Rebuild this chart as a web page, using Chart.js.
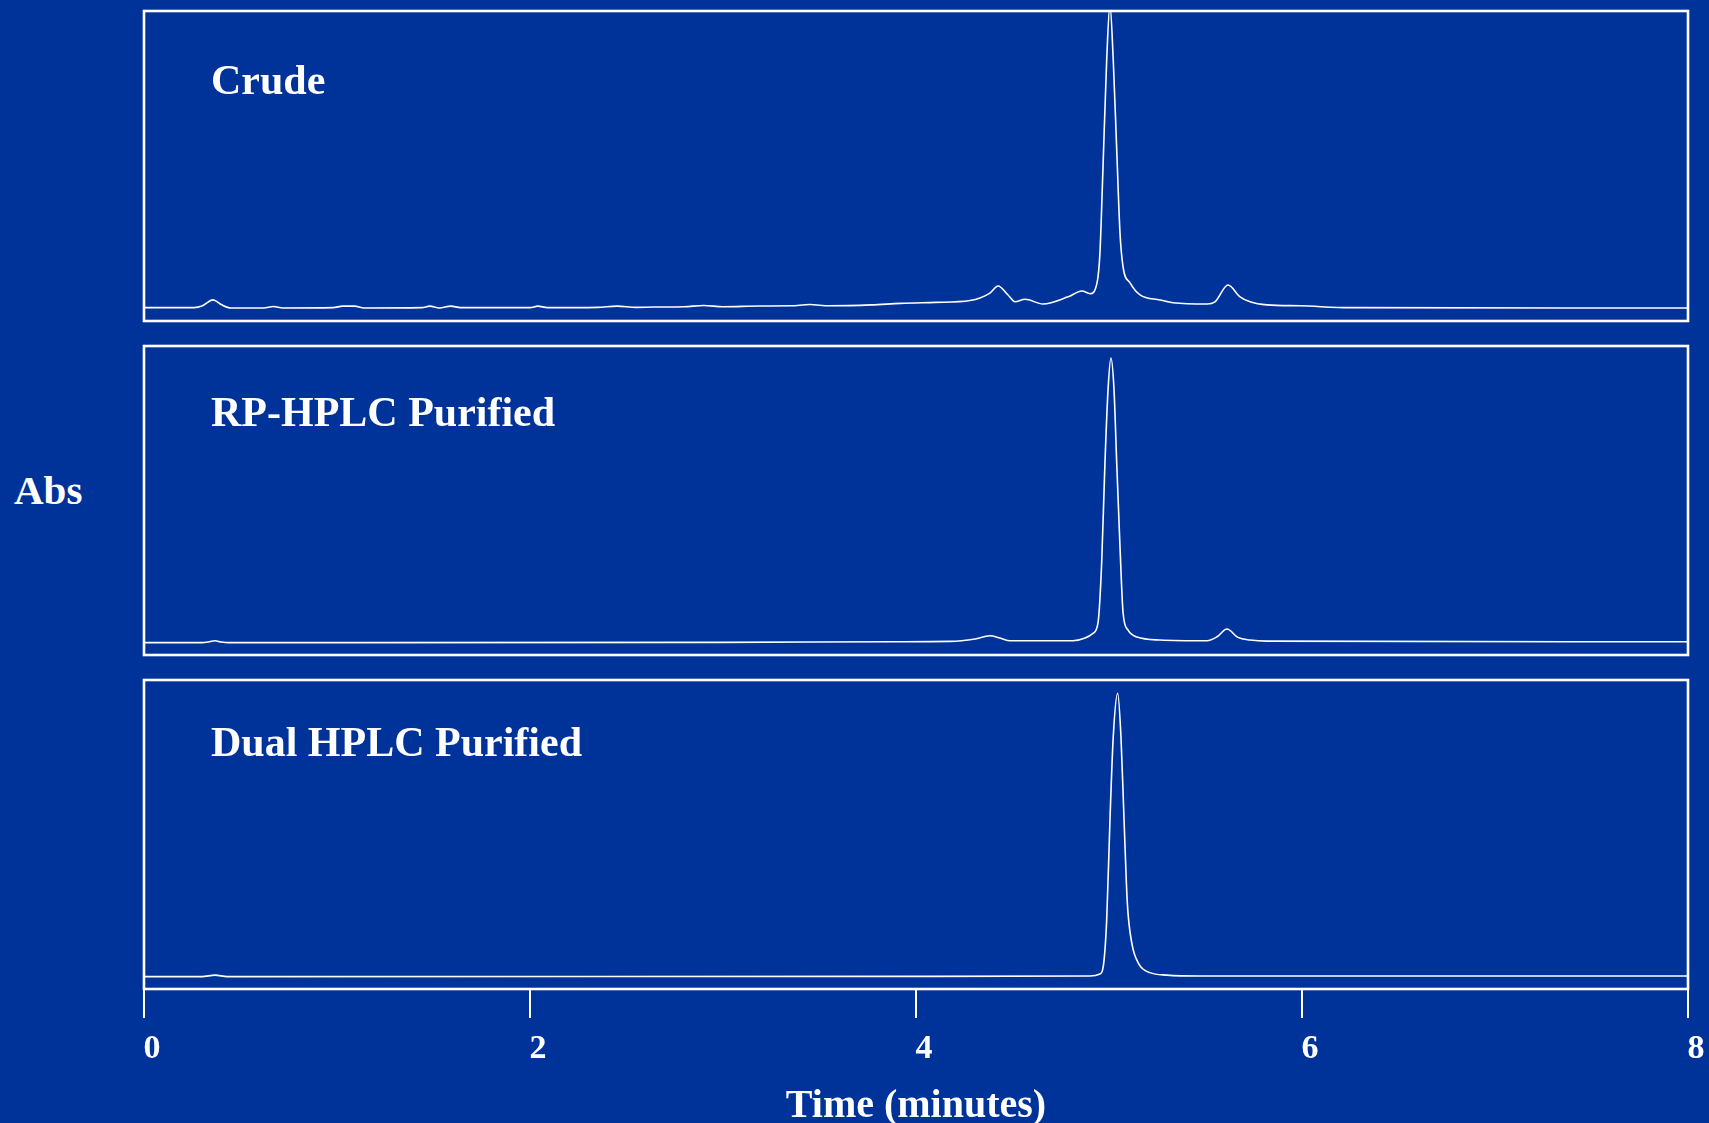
<!DOCTYPE html>
<html>
<head>
<meta charset="utf-8">
<script src="https://cdn.jsdelivr.net/npm/chart.js@4.4.1/dist/chart.umd.min.js"></script>
<style>
  html, body { margin: 0; padding: 0; background: #003399; }
  body { width: 1709px; height: 1123px; position: relative; overflow: hidden; }
  .panel { position: absolute; left: 134px; width: 1575px; }
  .panel canvas { display: block; }
  #absLabel {
    position: absolute; left: 14px; top: 470px;
    font: bold 41px "Liberation Serif", "Times New Roman", serif;
    line-height: 41px; color: #ffffff; white-space: nowrap;
  }
</style>
</head>
<body>
<div id="absLabel">Abs</div>
<div class="panel" style="top:1px;height:330px"><canvas id="c1" width="1575" height="330"></canvas></div>
<div class="panel" style="top:336px;height:329px"><canvas id="c2" width="1575" height="329"></canvas></div>
<div class="panel" style="top:670px;height:453px"><canvas id="c3" width="1575" height="453"></canvas></div>
<script>
// Chromatogram traces: retention time (min) and absorbance (% of panel full scale)
const crudeTime = [0, 0.26, 0.30, 0.358, 0.40, 0.45, 0.62, 0.67, 0.72, 0.98, 1.03, 1.09, 1.14, 1.44, 1.48, 1.53, 1.59, 1.64,
  2.0, 2.04, 2.09, 2.35, 2.45, 2.55, 2.64, 2.80, 2.90, 3.00, 3.19, 3.35, 3.45, 3.55, 3.77, 3.92, 4.10, 4.28,
  4.383, 4.425, 4.477, 4.513, 4.565, 4.658, 4.788, 4.860, 4.902,
  4.938, 4.953, 4.969, 4.988, 5.005, 5.022, 5.040, 5.057, 5.073, 5.109, 5.161, 5.264, 5.332, 5.508, 5.549, 5.617,
  5.679, 5.731, 5.819, 5.990, 6.249, 8.0];
const crudeAbs = [4.3, 4.3, 4.8, 6.8, 5.3, 4.2, 4.2, 4.7, 4.2, 4.3, 4.8, 4.8, 4.2, 4.3, 4.8, 4.2, 4.8, 4.3,
  4.3, 4.8, 4.3, 4.4, 4.8, 4.4, 4.5, 4.6, 5.0, 4.6, 4.85, 4.9, 5.3, 4.9, 5.2, 5.7, 6.0, 6.6,
  9.0, 11.3, 8.4, 6.2, 7.0, 5.5, 7.8, 9.7, 8.8,
  12.3, 21.9, 49.7, 84.2, 102, 84.2, 55.2, 28.4, 17.4, 12.3, 8.4, 6.8, 5.9, 5.5, 6.2, 11.6,
  7.8, 6.2, 5.2, 4.9, 4.3, 4.2];

const rpTime = [0, 0.30, 0.34, 0.368, 0.40, 0.44, 3.0, 3.9, 4.176, 4.306, 4.383, 4.435, 4.487, 4.813, 4.876, 4.917,
  4.943, 4.962, 4.979, 4.995, 5.010, 5.026, 5.040, 5.057, 5.073, 5.098, 5.145, 5.264, 5.508, 5.560, 5.611, 5.668,
  5.731, 5.819, 8.0];
const rpAbs = [4.0, 4.0, 4.3, 4.6, 4.2, 4.0, 4.1, 4.3, 4.4, 5.2, 6.25, 5.5, 4.6, 4.6, 5.5, 7.0,
  10.4, 29.8, 62.1, 85.8, 96.1, 85.8, 62.1, 35.0, 13.6, 8.1, 5.8, 4.85, 4.6, 5.9, 8.4, 5.7,
  4.85, 4.5, 4.3];

const dualTime = [0, 0.30, 0.368, 0.43, 4.0, 4.902, 4.953, 4.969, 4.988, 5.005, 5.022, 5.045, 5.062, 5.078, 5.095,
  5.118, 5.152, 5.212, 5.299, 5.47, 8.0];
const dualAbs = [4.0, 4.0, 4.5, 4.0, 4.1, 4.2, 4.85, 6.8, 22.3, 54.7, 81.6, 95.7, 81.6, 54.7, 27.8,
  14.9, 8.4, 5.3, 4.5, 4.2, 4.2];

const timeTicks = [0, 2, 4, 6, 8];
const panelLabels = ['Crude', 'RP-HPLC Purified', 'Dual HPLC Purified'];
const axisTitle = 'Time (minutes)';

const WHITE = '#ffffff';
const SERIF = '"Liberation Serif", "Times New Roman", serif';

// Frame around each plot area plus the sample name in its upper-left corner
const panelDecor = {
  id: 'panelDecor',
  afterDraw(chart, args, opts) {
    const { ctx, chartArea: a } = chart;
    ctx.save();
    ctx.strokeStyle = WHITE;
    ctx.lineWidth = 2.6;
    ctx.strokeRect(a.left, a.top, a.right - a.left, a.bottom - a.top);
    ctx.fillStyle = WHITE;
    ctx.font = 'bold 42px ' + SERIF;
    ctx.textBaseline = 'alphabetic';
    ctx.textAlign = 'left';
    ctx.fillText(opts.label, a.left + opts.dx, a.top + opts.dy);
    ctx.restore();
  }
};

function toPoints(ts, vs) {
  return ts.map((t, i) => ({ x: t, y: vs[i] }));
}

function makePanel(id, times, values, label, dy, showAxis) {
  const xScale = {
    type: 'linear', min: 0, max: 8,
    display: showAxis,
    afterBuildTicks: s => { s.ticks = timeTicks.map(v => ({ value: v })); }
  };
  if (showAxis) {
    Object.assign(xScale, {
      border: { display: false },
      grid: { display: true, drawOnChartArea: false, drawTicks: true, tickLength: 29, color: WHITE, lineWidth: 2 },
      ticks: { color: WHITE, font: { family: SERIF, size: 34, weight: 'bold' }, padding: 11, labelOffset: 8, maxRotation: 0 },
      title: { display: true, text: axisTitle, color: WHITE, font: { family: SERIF, size: 40, weight: 'bold', lineHeight: 0.8 }, padding: 0 },
      afterFit: s => { s.height = 134; s.paddingLeft = 0; s.paddingRight = 0; }
    });
  }
  return new Chart(document.getElementById(id), {
    type: 'line',
    data: {
      datasets: [{
        data: toPoints(times, values),
        borderColor: WHITE,
        borderWidth: 1.6,
        pointRadius: 0,
        cubicInterpolationMode: 'monotone',
        fill: false
      }]
    },
    options: {
      responsive: false,
      animation: false,
      layout: { padding: { top: 10, left: 10, right: 21, bottom: showAxis ? 0 : 10 } },
      scales: {
        x: xScale,
        y: { min: 0, max: 100, display: false }
      },
      plugins: {
        legend: { display: false },
        tooltip: { enabled: false },
        panelDecor: { label: label, dx: 67, dy: dy }
      }
    },
    plugins: [panelDecor]
  });
}

makePanel('c1', crudeTime, crudeAbs, panelLabels[0], 83, false);
makePanel('c2', rpTime, rpAbs, panelLabels[1], 80, false);
makePanel('c3', dualTime, dualAbs, panelLabels[2], 76, true);
</script>
</body>
</html>
